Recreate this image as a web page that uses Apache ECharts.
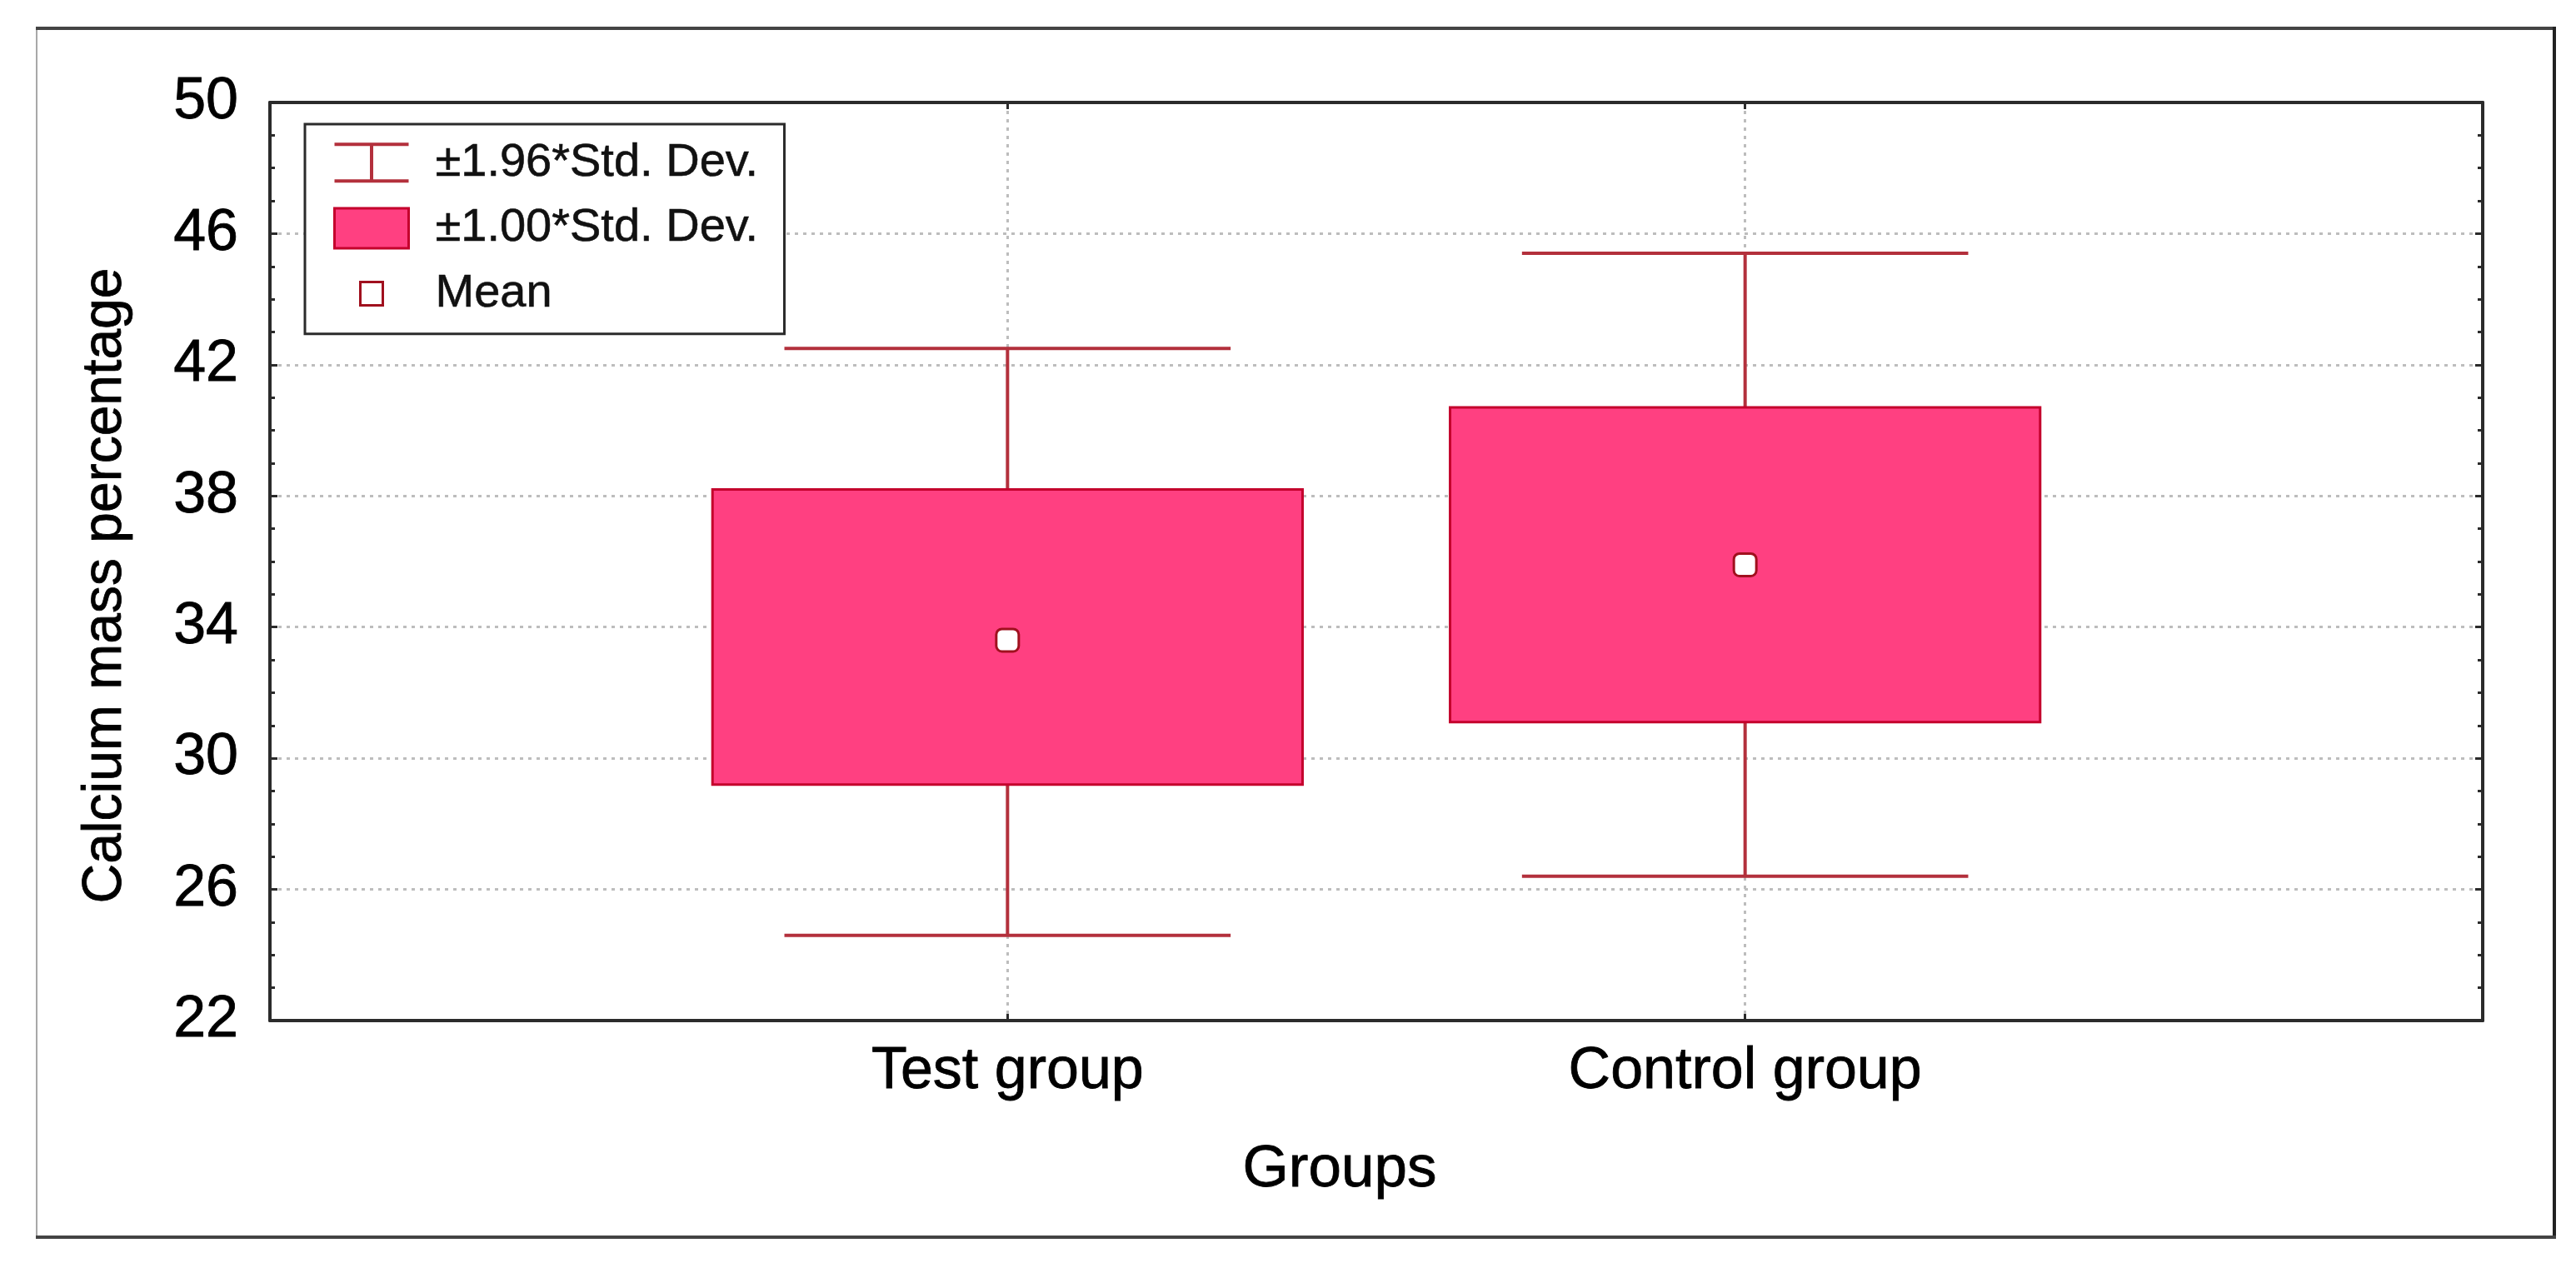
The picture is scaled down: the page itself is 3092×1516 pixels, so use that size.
<!DOCTYPE html>
<html>
<head>
<meta charset="utf-8">
<script src="https://cdn.jsdelivr.net/npm/echarts@6/dist/echarts.min.js"></script>
<style>
html,body{margin:0;padding:0;background:#fff;}
#chart{width:3092px;height:1516px;}
</style>
</head>
<body>
<div id="chart"></div>
<script>
// ---- data ----
const categories = ['Test group', 'Control group'];
const meanValues = [33.6, 35.9];
const boxLow = [29.2, 31.1];      // mean - 1.00*SD
const boxHigh = [38.2, 40.7];     // mean + 1.00*SD
const whiskerLow = [24.6, 26.4];  // mean - 1.96*SD
const whiskerHigh = [42.5, 45.4]; // mean + 1.96*SD
const yTicks = [22, 26, 30, 34, 38, 42, 46, 50];
const xTitle = 'Groups';
const yTitle = 'Calcium mass percentage';
const legendNames = ['±1.96*Std. Dev.', '±1.00*Std. Dev.', 'Mean'];

// ---- styles ----
const FONT = "'Liberation Sans', Arial, sans-serif";
const WHISKER = '#B3303C';
const BOX_FILL = '#FF4081';
const BOX_EDGE = '#C4002C';
const MEAN_EDGE = '#A0101E';
const BOX_W = 0.8, CAP_W = 0.605;
const txt = (size) => ({fontFamily: FONT, fontSize: size, color: '#000',
  textBorderColor: '#000', textBorderWidth: 0.8});

const chart = echarts.init(document.getElementById('chart'), null, {renderer: 'canvas'});

const boxData = categories.map((c, i) => [i + 1, boxLow[i], boxHigh[i]]);
const whiskerData = categories.map((c, i) => [i + 1, whiskerLow[i], whiskerHigh[i]]);
const meanData = categories.map((c, i) => [i + 1, meanValues[i]]);

const gridLine = {show: true, showMinLine: false, showMaxLine: false,
  lineStyle: {color: '#bdbdbd', width: 3, type: [4, 6]}};
const borderLine = {show: true, onZero: false, lineStyle: {color: '#2b2b2b', width: 4}};

const option = {
  backgroundColor: '#fff',
  animation: false,
  grid: {left: 324, right: 112, top: 123, bottom: 291},
  legend: {
    orient: 'vertical',
    left: 366, top: 149,
    padding: [18, 31, 20, 33],
    itemGap: 22,
    itemWidth: 89, itemHeight: 48,
    borderColor: '#2b2b2b', borderWidth: 3,
    backgroundColor: '#fff',
    textStyle: Object.assign(txt(56), {color: '#111', textBorderColor: '#111', textBorderWidth: 0.6,
      lineHeight: 56, padding: [0, 0, 0, 27]}),
    data: [
      {name: legendNames[0], icon: 'path://M0,2H89M44.5,2V46M0,46H89',
        itemStyle: {color: 'none', borderColor: WHISKER, borderWidth: 4}},
      {name: legendNames[1], icon: 'rect',
        itemStyle: {color: BOX_FILL, borderColor: BOX_EDGE, borderWidth: 3}},
      {name: legendNames[2], icon: 'path://M0,0M89,48M31,10H58V38H31Z',
        itemStyle: {color: '#fff', borderColor: MEAN_EDGE, borderWidth: 3}}
    ],
    z: 10
  },
  xAxis: [{
    type: 'value', position: 'bottom', min: 0, max: 3, interval: 1,
    axisLine: borderLine,
    axisTick: {show: true, inside: true, length: 8, lineStyle: {color: '#2b2b2b', width: 3}},
    axisLabel: Object.assign(txt(70), {margin: 27, formatter: v => categories[v - 1] || ''}),
    splitLine: gridLine,
    name: xTitle, nameLocation: 'middle', nameGap: 144,
    nameTextStyle: Object.assign(txt(71), {padding: [0, 88, 0, 0]})
  }, {
    type: 'value', position: 'top', min: 0, max: 3, interval: 1,
    axisLine: borderLine,
    axisTick: {show: true, inside: true, length: 8, lineStyle: {color: '#2b2b2b', width: 3}},
    axisLabel: {show: false}, splitLine: {show: false}
  }],
  yAxis: [{
    type: 'value', position: 'left', min: yTicks[0], max: yTicks[yTicks.length - 1], interval: 4,
    axisLine: borderLine,
    axisTick: {show: true, inside: true, length: 9, lineStyle: {color: '#2b2b2b', width: 3}},
    minorTick: {show: true, splitNumber: 4, length: 6, lineStyle: {color: '#2b2b2b', width: 3}},
    axisLabel: Object.assign(txt(70), {margin: 38}),
    splitLine: gridLine,
    name: yTitle, nameLocation: 'middle', nameGap: 164,
    nameTextStyle: Object.assign(txt(66), {padding: [0, 58, 0, 0]})
  }, {
    type: 'value', position: 'right', min: yTicks[0], max: yTicks[yTicks.length - 1], interval: 4,
    axisLine: borderLine,
    axisTick: {show: true, inside: true, length: 9, lineStyle: {color: '#2b2b2b', width: 3}},
    minorTick: {show: true, splitNumber: 4, length: 6, lineStyle: {color: '#2b2b2b', width: 3}},
    axisLabel: {show: false}, splitLine: {show: false}
  }],
  series: [{
    name: legendNames[0], type: 'custom', xAxisIndex: 0, yAxisIndex: 0,
    data: whiskerData, z: 3,
    itemStyle: {color: WHISKER},
    encode: {x: 0, y: [1, 2]},
    renderItem: (params, api) => {
      const x = api.value(0), lo = api.value(1), hi = api.value(2);
      const pLo = api.coord([x, lo]), pHi = api.coord([x, hi]);
      const half = api.size([CAP_W, 0])[0] / 2;
      const st = {stroke: WHISKER, lineWidth: 4};
      return {type: 'group', children: [
        {type: 'line', shape: {x1: pLo[0], y1: pLo[1], x2: pHi[0], y2: pHi[1]}, style: st},
        {type: 'line', shape: {x1: pHi[0] - half, y1: pHi[1], x2: pHi[0] + half, y2: pHi[1]}, style: st},
        {type: 'line', shape: {x1: pLo[0] - half, y1: pLo[1], x2: pLo[0] + half, y2: pLo[1]}, style: st}
      ]};
    }
  }, {
    name: legendNames[1], type: 'custom', xAxisIndex: 0, yAxisIndex: 0,
    data: boxData, z: 4,
    itemStyle: {color: BOX_FILL},
    encode: {x: 0, y: [1, 2]},
    renderItem: (params, api) => {
      const x = api.value(0), lo = api.value(1), hi = api.value(2);
      const half = BOX_W / 2;
      const a = api.coord([x - half, hi]), b = api.coord([x + half, lo]);
      return {type: 'rect', shape: {x: a[0], y: a[1], width: b[0] - a[0], height: b[1] - a[1]},
        style: {fill: BOX_FILL, stroke: BOX_EDGE, lineWidth: 3}};
    }
  }, {
    name: legendNames[2], type: 'scatter', xAxisIndex: 0, yAxisIndex: 0,
    data: meanData, z: 5,
    symbol: 'roundRect', symbolSize: 27,
    itemStyle: {color: '#fff', borderColor: MEAN_EDGE, borderWidth: 3, opacity: 1}
  }],
  graphic: [
    {type: 'line', shape: {x1: 44, y1: 34, x2: 44, y2: 1485}, style: {stroke: '#a8a8a8', lineWidth: 2}},
    {type: 'line', shape: {x1: 43, y1: 34, x2: 3067, y2: 34}, style: {stroke: '#444', lineWidth: 4}},
    {type: 'line', shape: {x1: 3066, y1: 32, x2: 3066, y2: 1487}, style: {stroke: '#222', lineWidth: 4}},
    {type: 'line', shape: {x1: 43, y1: 1485, x2: 3068, y2: 1485}, style: {stroke: '#444', lineWidth: 4}}
  ]
};
chart.setOption(option);
</script>
</body>
</html>
